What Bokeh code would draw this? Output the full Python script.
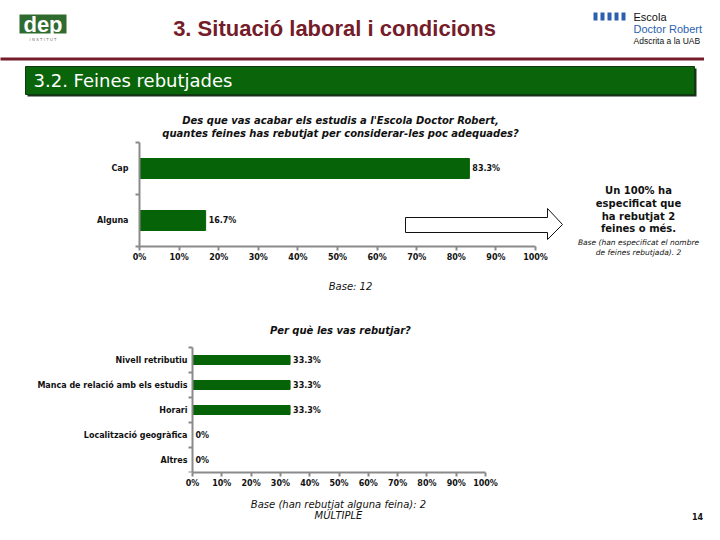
from bokeh.plotting import figure
from bokeh.layouts import column
from bokeh.models import Range1d, FixedTicker, PrintfTickFormatter
from bokeh.core.properties import value
from bokeh.embed import file_html
from bokeh.resources import INLINE

# ---------------- data ----------------
page_title = "3. Situació laboral i condicions"
section_title = "3.2. Feines rebutjades"

q1_title = ["Des que vas acabar els estudis a l'Escola Doctor Robert,",
            "quantes feines has rebutjat per considerar-les poc adequades?"]
q1_categories = ["Cap", "Alguna"]
q1_values = [83.3, 16.7]
q1_base = "Base: 12"
side_note = ["Un 100% ha", "especificat que", "ha rebutjat 2", "feines o més."]
side_base = ["Base (han especificat el nombre", "de feines rebutjada). 2"]

q2_title = "Per què les vas rebutjar?"
q2_categories = ["Nivell retributiu", "Manca de relació amb els estudis", "Horari",
                 "Localització geogràfica", "Altres"]
q2_values = [33.3, 33.3, 33.3, 0, 0]
q2_base = ["Base (han rebutjat alguna feina): 2", "MÚLTIPLE"]
page_number = "14"

x_ticks = list(range(0, 101, 10))

GREEN = "#076307"
AXIS = "#8a8a8a"
FONT = "DejaVu Sans"
W = 704
H = 524
LB = 139          # common left border of every figure (keeps the column's frames aligned)


def blank(h, xr, yr):
    p = figure(width=W, height=h, x_range=xr, y_range=yr, output_backend="svg",
               toolbar_location=None, x_axis_type=None, y_axis_type=None,
               min_border_left=LB, min_border_right=0, min_border_top=0, min_border_bottom=0,
               outline_line_color=None)
    p.xgrid.visible = False
    p.ygrid.visible = False
    return p


def ptext(p, x, y, t, size, style="normal", align="left", color="#111111", font="Liberation Sans"):
    p.text(x=x, y=y, text=t, text_color=color, text_font=value(font), text_font_style=style,
           text_font_size=size, text_align=align, text_baseline="middle", level="overlay")


# ---------------- header (page pixel coordinates) ----------------
HDR_B = 105
hdr = blank(HDR_B, Range1d(LB, W), Range1d(HDR_B, 0))
hdr.quad(left=[19], right=[66], top=[14], bottom=[33], fill_color="#2f6b2f", line_color=None,
         level="overlay")
ptext(hdr, [42.5], [23.5], ["dep"], "22px", "bold", "center", "white")
ptext(hdr, [42.5], [39], ["I N S T I T U T"], "4px", "normal", "center", "#777777", FONT)
ptext(hdr, [334], [28], [page_title], "22px", "bold", "center", "#751c2a")
bx = [593, 600, 607, 614, 621]
hdr.quad(left=bx, right=[b + 4 for b in bx], top=[12] * 5, bottom=[20] * 5,
         fill_color="#2d5fb0", line_color=None, level="overlay")
ptext(hdr, [633], [16], ["Escola"], "11px", "normal", "left", "#111111")
ptext(hdr, [633], [28], ["Doctor Robert"], "11px", "normal", "left", "#2d5fb0")
ptext(hdr, [633], [40], ["Adscrita a la UAB"], "8.5px", "normal", "left", "#111111")
hdr.segment(x0=[0], x1=[W], y0=[58.5], y1=[58.5], line_color="#751c2a", line_width=3,
            level="overlay")
hdr.quad(left=[27], right=[696], top=[68], bottom=[96], fill_color="#1b2f1b", line_color=None,
         level="overlay")
hdr.quad(left=[25], right=[694], top=[66], bottom=[94], fill_color="#0a650a", line_color="#0d3d0d",
         level="overlay")
ptext(hdr, [33], [80], [section_title], "18px", "normal", "left", "white", FONT)


def style_axes(p, cats, show_labels=True):
    xa = p.xaxis[0]
    xa.ticker = FixedTicker(ticks=x_ticks, minor_ticks=[])
    xa.formatter = PrintfTickFormatter(format="%d%%")
    xa.bounds = (0, 100)
    xa.axis_line_color = AXIS
    xa.axis_line_width = 2
    xa.major_tick_line_color = AXIS
    xa.major_tick_line_width = 2
    xa.major_tick_out = 4
    xa.major_tick_in = 0
    xa.major_label_standoff = 2
    xa.major_label_text_font = FONT
    xa.major_label_text_font_style = "bold"
    xa.major_label_text_font_size = "8px"
    xa.major_label_text_color = "#111111"

    n = len(cats)
    ya = p.yaxis[0]
    centers = [n - i - 0.5 for i in range(n)]
    ya.ticker = FixedTicker(ticks=centers, minor_ticks=list(range(n + 1)))
    ya.major_label_overrides = {c: (cat if show_labels else "") for c, cat in zip(centers, cats)}
    ya.bounds = (0, n)
    ya.axis_line_color = AXIS
    ya.axis_line_width = 2
    ya.major_tick_out = 0
    ya.major_tick_in = 0
    ya.minor_tick_line_color = AXIS
    ya.minor_tick_line_width = 2
    ya.minor_tick_out = 4
    ya.minor_tick_in = 0
    ya.major_label_standoff = 7
    ya.major_label_text_font = FONT
    ya.major_label_text_font_style = "bold"
    ya.major_label_text_font_size = "8px"
    ya.major_label_text_color = "#111111"


def txt(p, x, y, t, size, style="normal", align="center", color="#111111", x_offset=0):
    p.text(x=x, y=y, text=t, text_font=value(FONT), text_font_size=size, text_font_style=style,
           text_align=align, text_baseline="middle", text_color=color, x_offset=x_offset,
           level="overlay")


# ---------------- chart 1 ----------------
C1_T, C1_B = HDR_B, 300
c1_zero = LB       # page x of 0 %
u1x = 3.96         # px per %
c1_axis = 246      # page y of the x axis
u1y = 52.0         # px per category
c1 = figure(width=W, height=C1_B - C1_T,
            x_range=Range1d(0, (W - c1_zero) / u1x),
            y_range=Range1d(0, (c1_axis - C1_T) / u1y),
            output_backend="svg", toolbar_location=None, min_border_left=LB, min_border_right=0,
            min_border_top=0, min_border_bottom=C1_B - c1_axis, outline_line_color=None)
c1.xgrid.visible = False
c1.ygrid.visible = False
style_axes(c1, q1_categories)
n1 = len(q1_categories)
y1 = [n1 - i - 0.5 for i in range(n1)]
c1.hbar(y=y1, right=q1_values, left=0, height=20 / u1y, fill_color=GREEN, line_color=GREEN)
txt(c1, q1_values, y1, [f"{v:.1f}%" for v in q1_values], "8px", "bold", "left", x_offset=3)
txt(c1, [(340 - c1_zero) / u1x] * 2, [(c1_axis - 120) / u1y, (c1_axis - 133) / u1y], q1_title,
    "10px", "bold italic")
ax = [405, 547, 547, 562, 547, 547, 405]
ay = [217, 217, 208, 224, 239, 232, 232]
c1.patch(x=[(a - c1_zero) / u1x for a in ax], y=[(c1_axis - b) / u1y for b in ay],
         fill_color="white", line_color="#111111", line_width=1, level="overlay")
sx = (638 - c1_zero) / u1x
txt(c1, [sx] * 4, [(c1_axis - b) / u1y for b in [190, 203, 216, 228]], side_note, "10px", "bold")
txt(c1, [sx] * 2, [(c1_axis - b) / u1y for b in [242, 252]], side_base, "7.5px", "italic")
txt(c1, [(350 - c1_zero) / u1x], [(c1_axis - 286) / u1y], [q1_base], "10px", "italic")

# ---------------- chart 2 ----------------
C2_T = C1_B
c2_zero = 192
u2x = 2.93
c2_axis = 472
u2y = 25.0
C2_BB = 20
c2 = figure(width=W, height=c2_axis - C2_T + C2_BB,
            x_range=Range1d((LB - c2_zero) / u2x, (W - c2_zero) / u2x),
            y_range=Range1d(0, (c2_axis - C2_T) / u2y),
            output_backend="svg", toolbar_location=None, min_border_left=LB, min_border_right=0,
            min_border_top=0, min_border_bottom=C2_BB, outline_line_color=None)
c2.xgrid.visible = False
c2.ygrid.visible = False
style_axes(c2, q2_categories, show_labels=False)
c2.yaxis[0].fixed_location = 0
n2 = len(q2_categories)
y2 = [n2 - i - 0.5 for i in range(n2)]
c2.hbar(y=y2, right=q2_values, left=0, height=9 / u2y, fill_color=GREEN, line_color=GREEN)
txt(c2, [0] * n2, y2, q2_categories, "8px", "bold", "right", x_offset=-5)
txt(c2, q2_values, y2, [f"{v:.1f}%" if v else "0%" for v in q2_values], "8px", "bold", "left",
    x_offset=3)
txt(c2, [(340 - c2_zero) / u2x], [(c2_axis - 330) / u2y], [q2_title], "10px", "bold italic")

# ---------------- footer (page pixel coordinates) ----------------
FT_T = c2_axis + C2_BB
ft = blank(H - FT_T, Range1d(LB, W), Range1d(H, FT_T))
ptext(ft, [338, 338], [504, 515], q2_base, "10px", "italic", "center", "#111111", FONT)
ptext(ft, [697], [516], [page_number], "8px", "bold", "center", "#111111", FONT)

layout = column(hdr, c1, c2, ft, spacing=0)
open("out.html", "w").write(file_html(layout, INLINE))
